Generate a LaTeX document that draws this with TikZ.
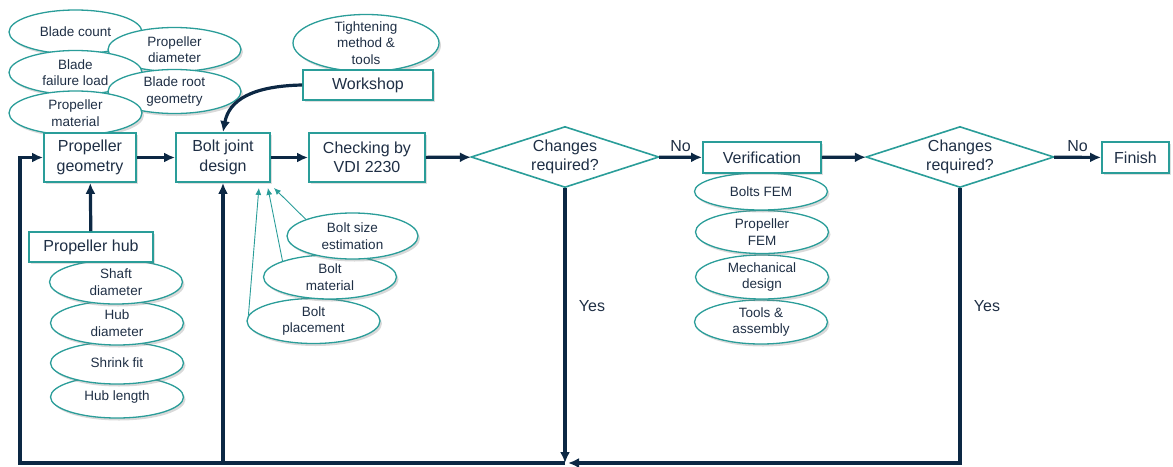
\documentclass[tikz,border=0pt]{standalone}
\usepackage{fontspec}
\setmainfont{Liberation Sans}
\usetikzlibrary{shapes.geometric,arrows.meta,positioning,calc,shadows}

\definecolor{navy}{HTML}{0C2844}
\definecolor{tealc}{HTML}{2A9D99}
\definecolor{ink}{HTML}{1F2F45}

\begin{document}
\begin{tikzpicture}[x=1pt,y=-1pt,
    box/.style={draw=tealc, line width=1.8pt, fill=white, text=ink, align=center, inner sep=0pt,
      font=\fontsize{16}{19.5}\selectfont,
      drop shadow={opacity=0.25, shadow xshift=1.5pt, shadow yshift=-1.5pt}},
    bubble/.style={ellipse, draw=tealc, line width=1.3pt, fill=white, text=ink, align=center, inner sep=0pt,
      minimum width=133pt, minimum height=44pt, font=\fontsize{13.5}{16.5}\selectfont,
      drop shadow={opacity=0.3, shadow xshift=2pt, shadow yshift=-2.5pt}},
    decision/.style={diamond, aspect=3, draw=tealc, line width=1.6pt, fill=white, text=ink, align=center,
      inner sep=0pt, minimum width=188pt, minimum height=61pt, font=\fontsize{16}{19.5}\selectfont},
    flow/.style={draw=navy, line width=3.2pt, -{Latex[length=11pt,width=10pt]}},
    hint/.style={draw=tealc, line width=0.9pt, -{Latex[length=7pt,width=6pt]}},
    lbl/.style={text=ink, font=\fontsize{16}{19}\selectfont}]
    \useasboundingbox (0,0) rectangle (1173,466);

    % Inputs of the propeller geometry
    \node[bubble] (bc) at (75.5,32) {Blade count};
    \node[bubble] (pd) at (174.5,49.5) {Propeller\\diameter};
    \node[bubble] (bfl) at (75.5,72.5) {Blade\\failure load};
    \node[bubble] (brg) at (174.5,91.5) {Blade root\\geometry};
    \node[bubble] (pm) at (75.5,113) {Propeller\\material};

    % Workshop
    \node[bubble, minimum width=146pt, minimum height=57pt, inner ysep=-4pt] (tm) at (366,43) {Tightening\\method \&\\tools};
    \node[box, minimum width=130pt, minimum height=30pt] (ws) at (368,85) {Workshop};

    % Main chain
    \node[box, minimum width=92pt, minimum height=49pt] (pg) at (90,157.5) {Propeller\\geometry};
    \node[box, minimum width=94pt, minimum height=49pt] (bjd) at (223,157.5) {Bolt joint\\design};
    \node[box, minimum width=116pt, minimum height=49pt] (chk) at (367,157.5) {Checking by\\VDI 2230};
    \node[decision] (d1) at (565,157) {Changes\\required?};
    \node[decision] (d2) at (960,157) {Changes\\required?};
    \node[box, minimum width=67pt, minimum height=31pt] (fin) at (1135.5,157.5) {Finish};

    % Verification
    \node[bubble] (ta) at (761,322) {Tools \&\\assembly};
    \node[bubble] (md) at (762,277) {Mechanical\\design};
    \node[bubble, minimum height=43pt] (pf) at (762,232) {Propeller\\FEM};
    \node[bubble, minimum height=37pt] (bf) at (761,191.5) {Bolts FEM};
    \node[box, minimum width=118pt, minimum height=31pt] (ver) at (762,157.5) {Verification};

    % Propeller hub
    \node[bubble, minimum height=42pt] (hl) at (117,397) {Hub length};
    \node[bubble, minimum height=42pt] (sf) at (117,363) {Shrink fit};
    \node[bubble] (hd) at (117,323) {Hub\\diameter};
    \node[bubble] (sd) at (116,282) {Shaft\\diameter};
    \node[box, minimum width=124pt, minimum height=30pt] (hub) at (91,247) {Propeller hub};

    % Bolt inputs
    \node[bubble, minimum height=45pt] (bp) at (313.5,321) {Bolt\\placement};
    \node[bubble] (bm) at (330,277) {Bolt\\material};
    \node[bubble, minimum width=131pt, minimum height=46pt] (bse) at (352.5,236) {Bolt size\\estimation};

    % Connectors
    \coordinate (bot) at (565,463);
    \coordinate (corner) at (20,157.5);
    \draw[flow] (pg) -- (bjd);
    \draw[flow] (bjd) -- (chk);
    \draw[flow] (chk) -- (d1);
    \draw[flow] (d1) -- (ver) node[lbl, midway, above=1pt] {No};
    \draw[flow] (ver) -- (d2);
    \draw[flow] (d2) -- (fin) node[lbl, midway, above=1pt] {No};
    \draw[flow] (hub) -- (pg);
    \draw[flow] (ws.west) .. controls +(-50,1) and +(6,-32) .. (bjd.north);
    \draw[flow] (d1.south) -- (bot) node[lbl, pos=0.43, right=9pt] {Yes};
    \draw[flow, shorten >=3pt] (d2.south) |- (bot) node[lbl, pos=0.215, right=9pt] {Yes};
    \draw[flow] (bot) -| (corner) -- (pg.west);
    \draw[flow] (bjd.south |- bot) -- (bjd.south);

    \draw[hint] (bse.north west) -- ($(bjd.south east)+(3,5)$);
    \draw[hint] (bm.north west) -- ($(bjd.south east)+(-3,5)$);
    \draw[hint] (bp.175) -- ($(bjd.south east)+(-12,5)$);
\end{tikzpicture}
\end{document}
